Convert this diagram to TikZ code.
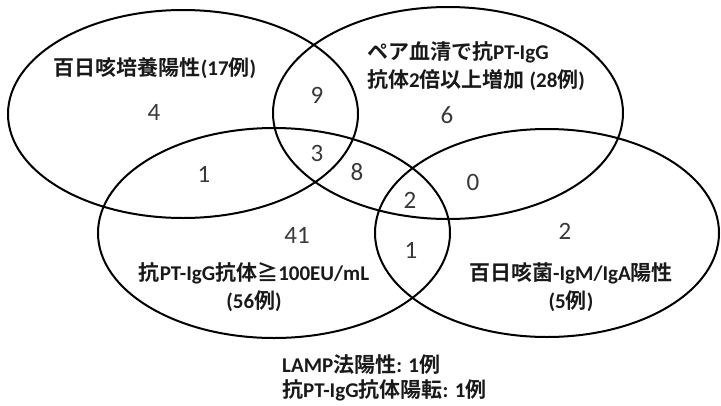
\documentclass[tikz,border=0pt]{standalone}
\usepackage{fontspec}
\setmainfont{Carlito}
\newfontfamily\cjk{Noto Sans CJK JP}[BoldFont={Noto Sans CJK JP Bold}]
\newcommand{\J}[1]{{\cjk #1}}
\begin{document}
\begin{tikzpicture}[x=1pt,y=-1pt,
  ell/.style={line width=2pt, draw=black},
  num/.style={font=\fontsize{25}{28}\selectfont, text=black!78, inner sep=0pt},
  lab/.style={font=\bfseries\fontsize{21}{28}\selectfont, text=black!90, align=center, inner sep=0pt},
  foot/.style={font=\bfseries\fontsize{21}{25}\selectfont, text=black!90, align=left, inner sep=0pt}]
\useasboundingbox (0,0) rectangle (721,405);
% ellipse centres
\coordinate (A) at (183,114);
\coordinate (B) at (448,113);
\coordinate (C) at (274,233);
\coordinate (D) at (547,233);
\draw[ell] (A) ellipse [x radius=175pt, y radius=104pt];
\draw[ell] (B) ellipse [x radius=175pt, y radius=106pt];
\draw[ell] (C) ellipse [x radius=176pt, y radius=105pt];
\draw[ell] (D) ellipse [x radius=172pt, y radius=104pt];
% set labels
\node[lab] (la) at (155,68) {\J{百日咳培養陽性}(17\J{例})};
\node[lab, anchor=west, align=left] (lb) at (367,66) {\J{ペア血清で抗}PT-IgG\\\J{抗体}2\J{倍以上増加} (28\J{例})};
\node[lab] (lc) at (254,287) {\J{抗}PT-IgG\J{抗体≧}100EU/mL\\(56\J{例})};
\node[lab] (ld) at (571,287) {\J{百日咳菌}-IgM/IgA\J{陽性}\\(5\J{例})};
\node[foot, anchor=west] (le) at (282,378) {LAMP\J{法陽性}: 1\J{例}\\\J{抗}PT-IgG\J{抗体陽転}: 1\J{例}};
% counts
\node[num] (n4) at (154,112) {4};
\node[num] (n9) at (317,95) {9};
\node[num] (n3) at (317,153) {3};
\node[num] (n1a) at (204,174) {1};
\node[num] (n8) at (357,172) {8};
\node[num] (n6) at (447,115) {6};
\node[num] (n0) at (473,182) {0};
\node[num] (n2a) at (410,200) {2};
\node[num] (n41) at (297,235) {41};
\node[num] (n1b) at (411,250) {1};
\node[num] (n2b) at (565,231) {2};
\end{tikzpicture}
\end{document}
